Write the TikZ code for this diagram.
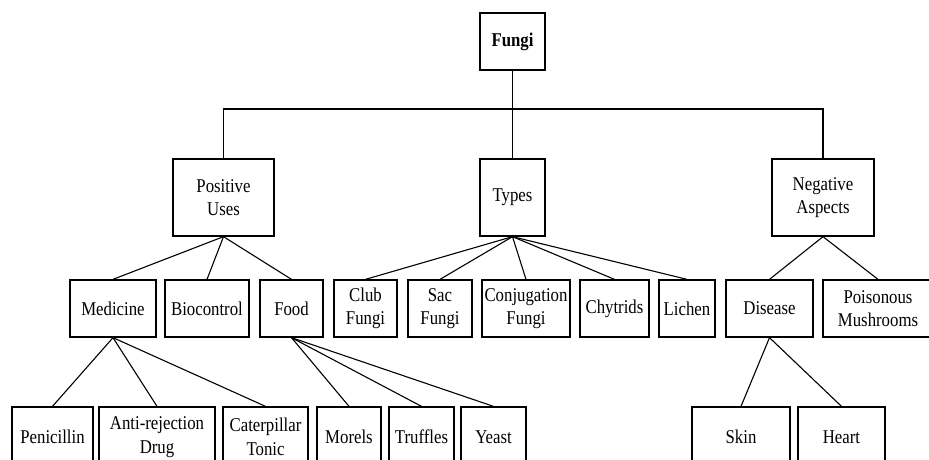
\documentclass[tikz,border=0pt]{standalone}
\usepackage{fontspec}
\setmainfont[FakeStretch=0.86]{Liberation Serif}
\begin{document}
\begin{tikzpicture}[x=1pt,y=-1pt,
  box/.style={draw,line width=1.3pt,inner sep=0pt,align=center,
    font=\fontsize{19.5}{23.5}\selectfont,anchor=center},
  link/.style={line width=1.1pt}]
\useasboundingbox (0,0) rectangle (929,459);
\clip (0,0) rectangle (929,459);
\fill[white] (0,0) rectangle (929,459);
% level 1
\node[box,minimum width=65pt,minimum height=57pt,font=\fontsize{19.5}{23.5}\selectfont\bfseries] (fungi) at (512.5,41.5) {Fungi};
% level 2
\node[box,minimum width=101pt,minimum height=77pt] (pos) at (223.5,197.5) {Positive\\Uses};
\node[box,minimum width=65pt,minimum height=77pt] (types) at (512.5,197.5) {Types};
\node[box,minimum width=102pt,minimum height=77pt] (neg) at (823,197.5) {Negative\\Aspects};
% level 3
\node[box,minimum width=86pt,minimum height=57pt] (med) at (113,308.5) {Medicine};
\node[box,minimum width=84pt,minimum height=57pt] (bio) at (207,308.5) {Biocontrol};
\node[box,minimum width=63pt,minimum height=57pt] (food) at (291.5,308.5) {Food};
\node[box,minimum width=63pt,minimum height=57pt] (club) at (365.5,308.5) {Club\\Fungi};
\node[box,minimum width=64pt,minimum height=57pt] (sac) at (440,308.5) {Sac\\Fungi};
\node[box,minimum width=88pt,minimum height=57pt] (conj) at (526,308.5) {Conjugation\\Fungi};
\node[box,minimum width=69pt,minimum height=57pt] (chy) at (614.5,308.5) {Chytrids};
\node[box,minimum width=56pt,minimum height=57pt] (lich) at (687,308.5) {Lichen};
\node[box,minimum width=87pt,minimum height=57pt] (dis) at (769.5,308.5) {Disease};
\node[box,minimum width=110pt,minimum height=57pt] (poi) at (878,308.5) {Poisonous\\Mushrooms};
% level 4
\node[box,minimum width=81pt,minimum height=60pt] (pen) at (52.5,437) {Penicillin};
\node[box,minimum width=116pt,minimum height=60pt] (anti) at (157,437) {Anti-rejection\\Drug};
\node[box,minimum width=85pt,minimum height=60pt] (cat) at (265.5,437) {Caterpillar\\Tonic};
\node[box,minimum width=64pt,minimum height=60pt] (mor) at (349,437) {Morels};
\node[box,minimum width=65pt,minimum height=60pt] (tru) at (421.5,437) {Truffles};
\node[box,minimum width=65pt,minimum height=60pt] (yea) at (493.5,437) {Yeast};
\node[box,minimum width=98pt,minimum height=60pt] (skin) at (741,437) {Skin};
\node[box,minimum width=87pt,minimum height=60pt] (heart) at (841.5,437) {Heart};
% connectors
\coordinate (bar) at (512.5,109);
\draw[link] (pos.north) |- (bar) -| (neg.north);
\draw[link] (fungi.south) -- (types.north);
\foreach \c in {med,bio,food} \draw[link] (pos.south) -- (\c.north);
\foreach \c in {club,sac,conj,chy,lich} \draw[link] (types.south) -- (\c.north);
\foreach \c in {dis,poi} \draw[link] (neg.south) -- (\c.north);
\foreach \c in {pen,anti,cat} \draw[link] (med.south) -- (\c.north);
\foreach \c in {mor,tru,yea} \draw[link] (food.south) -- (\c.north);
\foreach \c in {skin,heart} \draw[link] (dis.south) -- (\c.north);
\end{tikzpicture}
\end{document}
